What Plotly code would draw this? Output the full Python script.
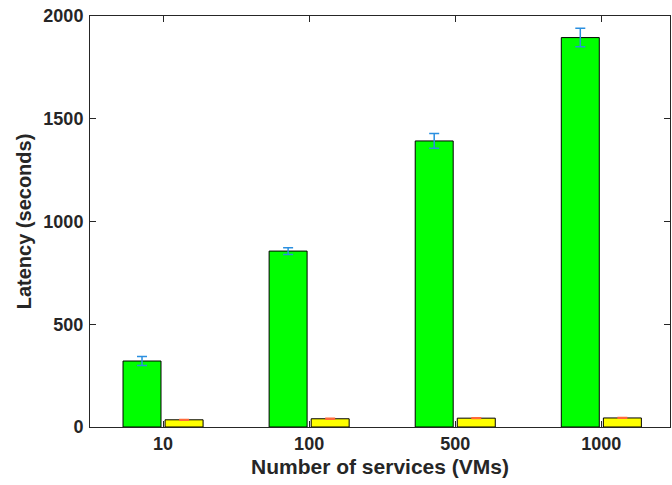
import plotly.graph_objects as go

categories = ["10", "100", "500", "1000"]
green_values = [321, 856, 1392, 1895]
green_errors = [22, 16, 36, 45]
yellow_values = [35, 40, 43, 44]
yellow_errors = [2, 2, 2, 2]

x = list(range(len(categories)))
font_family = "Liberation Sans, Arial, sans-serif"

fig = go.Figure()
fig.add_trace(go.Bar(
    x=x, y=green_values, width=0.26, offset=-0.274,
    marker=dict(color="#00ff00", line=dict(color="black", width=1)),
    error_y=dict(type="data", array=green_errors, visible=True,
                 color="#2a8fe0", thickness=1.5, width=5),
    showlegend=False,
))
fig.add_trace(go.Bar(
    x=x, y=yellow_values, width=0.26, offset=0.014,
    marker=dict(color="#ffff00", line=dict(color="black", width=1)),
    error_y=dict(type="data", array=yellow_errors, visible=True,
                 color="#ff6a3a", thickness=1.5, width=5),
    showlegend=False,
))

fig.update_layout(
    width=672, height=485,
    margin=dict(l=90, r=2, t=16, b=58),
    paper_bgcolor="white", plot_bgcolor="white",
    barmode="overlay",
    font=dict(family=font_family, color="#262626", size=18, weight="bold"),
)
fig.update_xaxes(
    range=[-0.5, 3.47], automargin=False,
    tickmode="array", tickvals=x, ticktext=categories,
    ticks="inside", ticklen=6, tickcolor="#262626",
    showline=True, linecolor="#262626", linewidth=1, mirror="ticks",
    showgrid=False, zeroline=False,
    tickfont=dict(size=18, weight="bold"),
    title=dict(text="Number of services (VMs)", font=dict(size=21, weight="bold"), standoff=6),
)
fig.update_yaxes(
    range=[0, 2000], automargin=False,
    tickmode="array", tickvals=[0, 500, 1000, 1500, 2000],
    ticks="inside", ticklen=6, tickcolor="#262626",
    showline=True, linecolor="#262626", linewidth=1, mirror="ticks",
    showgrid=False, zeroline=False, ticklabelstandoff=2,
    ticklabeloverflow="allow",
    tickfont=dict(size=18, weight="bold"),
    title=dict(text="Latency (seconds)", font=dict(size=20, weight="bold"), standoff=6),
)

fig.write_html(
    "out.html",
    config={"displayModeBar": False},
    post_script="document.body.style.margin='0';document.body.style.overflow='hidden';",
)
